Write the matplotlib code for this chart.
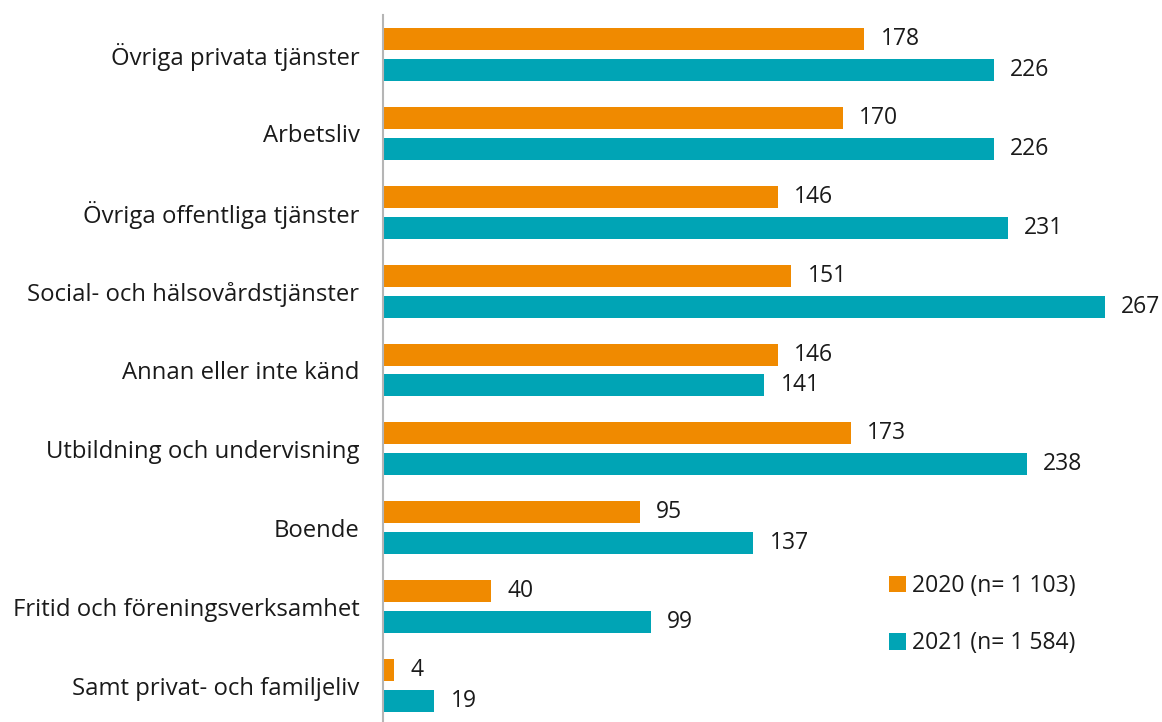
import matplotlib
matplotlib.use("Agg")
import matplotlib.pyplot as plt
from matplotlib.patches import Patch
import numpy as np

categories = ["Övriga privata tjänster", "Arbetsliv", "Övriga offentliga tjänster",
              "Social- och hälsovårdstjänster", "Annan eller inte känd",
              "Utbildning och undervisning", "Boende",
              "Fritid och föreningsverksamhet", "Samt privat- och familjeliv"]
values_2020 = [178, 170, 146, 151, 146, 173, 95, 40, 4]
values_2021 = [226, 226, 231, 267, 141, 238, 137, 99, 19]
legend_labels = ["2020 (n= 1 103)", "2021 (n= 1 584)"]

c2020 = "#F08A00"
c2021 = "#00A4B5"

plt.rcParams['font.family'] = ['Open Sans', 'DejaVu Sans']

W, H = 1162, 722
fig = plt.figure(figsize=(W/100, H/100), dpi=100)
ax_left = 383 / W
ax_top = 15 / H
ax_h = 710 / H
ax = fig.add_axes([ax_left, 1 - ax_top - ax_h, 1 - ax_left, ax_h])

y = np.arange(len(categories))
bh = 0.279
off = 0.196
ax.barh(y - off, values_2020, height=bh, color=c2020)
ax.barh(y + off, values_2021, height=bh, color=c2021)

ax.set_ylim(len(categories) - 0.5, -0.5)
xmax = 779 / 2.704
ax.set_xlim(0, xmax)

fs = 17.2
fsv = 16.5
tc = '#1a1a1a'
for yy, v in zip(y - off, values_2020):
    ax.text(v + 6.0, yy, str(v), va='center', ha='left', fontsize=fsv, color=tc)
for yy, v in zip(y + off, values_2021):
    ax.text(v + 6.0, yy, str(v), va='center', ha='left', fontsize=fsv, color=tc)

ax.set_yticks(y)
ax.set_yticklabels(categories, fontsize=fs, color=tc)
ax.tick_params(axis='y', length=0, pad=17)
ax.set_xticks([])
for s in ['top', 'right', 'bottom']:
    ax.spines[s].set_visible(False)
ax.spines['left'].set_color('#B5B5B5')
ax.spines['left'].set_linewidth(1.5)

handles = [Patch(facecolor=c2020), Patch(facecolor=c2021)]
leg = fig.legend(handles, legend_labels, loc='upper left',
                 bbox_to_anchor=(889 / W, 1 - 574 / H), frameon=False,
                 fontsize=fsv, handlelength=0.75, handleheight=0.75,
                 handletextpad=0.25, labelspacing=1.45, borderaxespad=0, borderpad=0)
for t in leg.get_texts():
    t.set_color(tc)

fig.savefig("out.png", dpi=100)
